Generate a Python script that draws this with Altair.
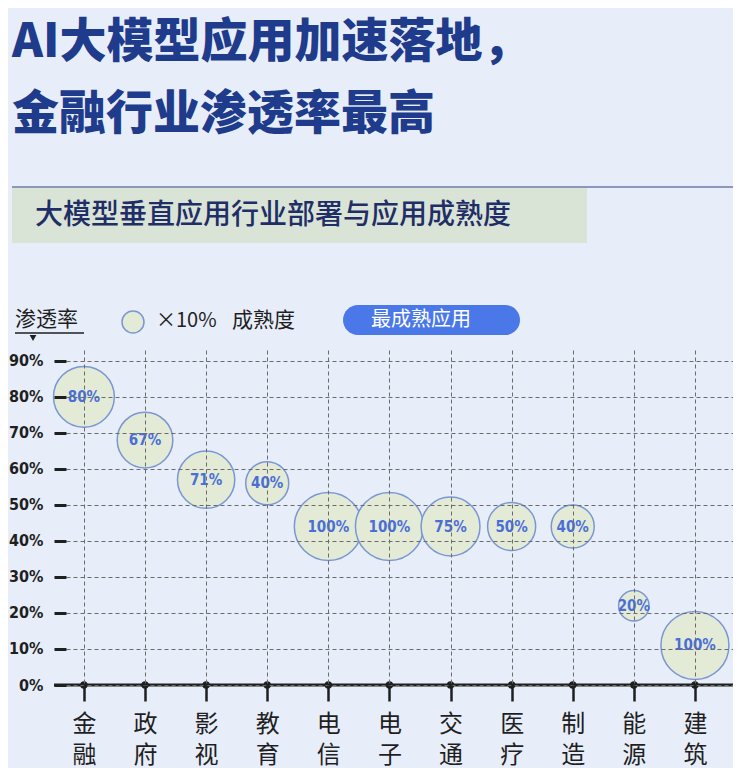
import altair as alt
import pandas as pd

# ---------------- data ----------------
INDUSTRIES = ["金融", "政府", "影视游戏", "教育", "电信", "电子商务", "交通", "医疗", "制造", "能源", "建筑"]
PENETRATION = [80, 68, 57, 56, 44, 44, 44, 44, 44, 22, 11]     # y, %
MATURITY = [80, 67, 71, 40, 100, 100, 75, 50, 40, 20, 100]     # bubble size, %
Y_TICKS = [0, 10, 20, 30, 40, 50, 60, 70, 80, 90]

TITLE_LINES = ["AI大模型应用加速落地，", "金融行业渗透率最高"]
SUBTITLE = "大模型垂直应用行业部署与应用成熟度"
LEGEND_AXIS = "渗透率"
LEGEND_UNIT = "×10%"
LEGEND_NAME = "成熟度"
BADGE = "最成熟应用"

# ---------------- style ----------------
BG = "#e8eef9"
TITLE_C = "#1e3b8c"
BUBBLE_FILL = "#e3ebd7"
BUBBLE_STROKE = "#7a96d4"
BUBBLE_TEXT = "#4a6ed8"
BADGE_C = "#4a78e8"
BAND_C = "#dae4d6"
DARK = "#1f1f1f"
GRID = "#6b6b6b"
CJK = "Noto Sans CJK SC"
NUM = "DejaVu Sans Condensed, Roboto, sans-serif"

W, H = 667, 335

df = pd.DataFrame({"industry": INDUSTRIES, "penetration": PENETRATION, "maturity": MATURITY})
df["label"] = df["maturity"].astype(str) + "%"
one = pd.DataFrame({"k": [0]})

x_enc = alt.X(
    "industry:N",
    sort=INDUSTRIES,
    title=None,
    scale=alt.Scale(type="point", padding=0.458, align=0.32),
    axis=alt.Axis(
        domain=False, grid=True, gridColor=GRID, gridDash=[4, 3], gridWidth=1,
        ticks=True, tickSize=16, tickWidth=2.5, tickColor=DARK,
        labelAngle=0, labelExpr="split(datum.label, '')", labelLineHeight=31,
        labelFont=CJK, labelFontSize=24, labelColor=DARK, labelPadding=11,
        labelBaseline="top", labelOverlap=False, zindex=1,
    ),
)
y_scale = alt.Scale(domain=[0, 93], nice=False, zero=True)
y_axis = alt.Axis(
    values=Y_TICKS, domain=False, grid=True, gridColor=GRID, gridDash=[4, 3], gridWidth=1,
    ticks=True, tickSize=12, tickWidth=3, tickColor=DARK,
    labelExpr="datum.value + '%'", labelFont=NUM, labelFontSize=16, labelFontWeight="bold",
    labelColor=DARK, labelPadding=11, labelOverlap=False, labelBound=False, zindex=1,
)
y_enc = alt.Y("penetration:Q", title=None, scale=y_scale, axis=y_axis)

bubbles = alt.Chart(df).mark_circle(
    opacity=1, fill=BUBBLE_FILL, stroke=BUBBLE_STROKE, strokeWidth=1.5
).encode(
    x=x_enc, y=y_enc,
    size=alt.Size("maturity:Q", scale=alt.Scale(domain=[0, 100], range=[0, 4624]), legend=None),
)

bubble_text = alt.Chart(df).mark_text(
    font=NUM, fontSize=15, fontWeight="bold", color=BUBBLE_TEXT
).encode(x=x_enc, y=y_enc, text="label:N")

axis_line = alt.Chart(one).mark_rule(color=DARK, strokeWidth=3).encode(
    x=alt.value(-12), x2=alt.value(W + 10), y=alt.value(H)
)

dots = alt.Chart(df).mark_circle(color=DARK, size=55, opacity=1).encode(
    x=x_enc, y=alt.YDatum(0, scale=y_scale, axis=y_axis, title=None)
)

# ---------------- header (relative to plot origin) ----------------
title = alt.Chart(one).mark_text(
    font=CJK, fontSize=47, fontWeight=900, color=TITLE_C, align="left",
    baseline="middle", lineHeight=72,
).encode(x=alt.value(-54), y=alt.value(-307), text=alt.value(TITLE_LINES))

divider = alt.Chart(one).mark_rule(color="#8d97bb", strokeWidth=2).encode(
    x=alt.value(-54), x2=alt.value(W + 10), y=alt.value(-163)
)

band = alt.Chart(one).mark_rect(color=BAND_C).encode(
    x=alt.value(-54), x2=alt.value(521), y=alt.value(-162), y2=alt.value(-107)
)

subtitle = alt.Chart(one).mark_text(
    font=CJK, fontSize=28, fontWeight=500, color="#1f2e66", align="left", baseline="middle"
).encode(x=alt.value(-31), y=alt.value(-134), text=alt.value(SUBTITLE))

leg_axis = alt.Chart(one).mark_text(
    font=CJK, fontSize=21, color=DARK, align="left", baseline="middle"
).encode(x=alt.value(-51), y=alt.value(-30), text=alt.value(LEGEND_AXIS))

leg_underline = alt.Chart(one).mark_rule(color=DARK, strokeWidth=1.5).encode(
    x=alt.value(-51), x2=alt.value(18), y=alt.value(-17)
)

leg_tri = alt.Chart(one).mark_point(
    shape="triangle-down", filled=True, color=DARK, size=45, opacity=1
).encode(x=alt.value(-33), y=alt.value(-12))

leg_circle = alt.Chart(one).mark_circle(
    fill=BUBBLE_FILL, stroke=BUBBLE_STROKE, strokeWidth=1.5, opacity=1, size=484
).encode(x=alt.value(67), y=alt.value(-28))

leg_unit = alt.Chart(one).mark_text(
    font=CJK, fontSize=20, color=DARK, align="left", baseline="middle"
).encode(x=alt.value(90), y=alt.value(-29), text=alt.value(LEGEND_UNIT))

leg_name = alt.Chart(one).mark_text(
    font=CJK, fontSize=21, color=DARK, align="left", baseline="middle"
).encode(x=alt.value(166), y=alt.value(-29), text=alt.value(LEGEND_NAME))

badge = alt.Chart(one).mark_rect(color=BADGE_C, cornerRadius=15).encode(
    x=alt.value(277), x2=alt.value(454), y=alt.value(-45), y2=alt.value(-15)
)

badge_text = alt.Chart(one).mark_text(
    font=CJK, fontSize=20, color="white", align="center", baseline="middle"
).encode(x=alt.value(355), y=alt.value(-30), text=alt.value(BADGE))

chart = alt.layer(
    band, divider, title, subtitle,
    leg_axis, leg_underline, leg_tri, leg_circle, leg_unit, leg_name, badge, badge_text,
    axis_line, bubbles, bubble_text, dots,
).properties(
    width=W, height=H,
    padding={"left": 58, "top": 342, "right": 0, "bottom": 83},
    autosize=alt.AutoSizeParams(type="none"),
    background=BG,
).configure_view(stroke=None)

chart.save("out.html", embed_options={"renderer": "svg", "actions": False})
